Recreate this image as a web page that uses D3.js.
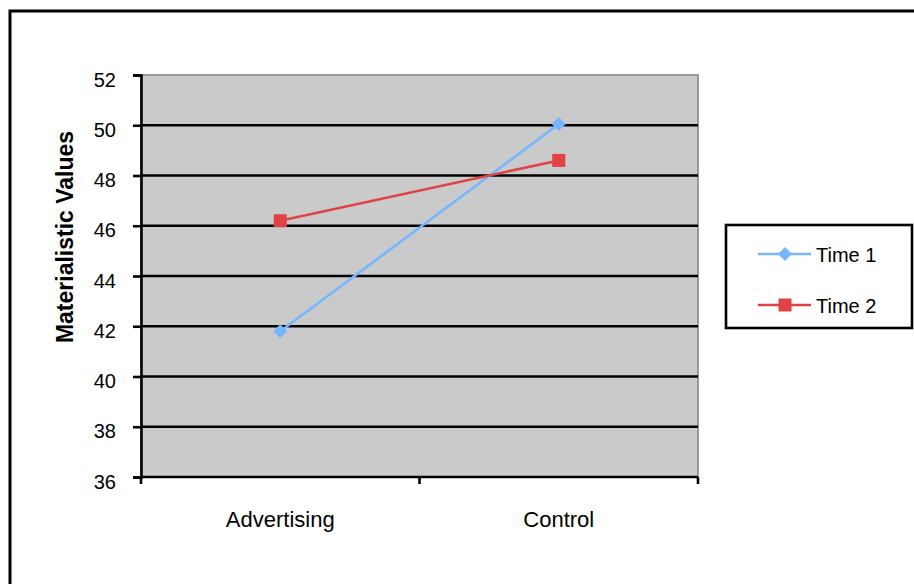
<!DOCTYPE html>
<html>
<head>
<meta charset="utf-8">
<script src="https://cdn.jsdelivr.net/npm/d3@7"></script>
<style>
  html, body { margin: 0; padding: 0; background: #fff; }
  svg { display: block; }
  text { font-family: "Liberation Sans", Arial, sans-serif; }
</style>
</head>
<body>
<svg id="chart" width="914" height="584"></svg>
<script>
// Group means per condition
const categories = ["Advertising", "Control"];
const seriesNames = ["Time 1", "Time 2"];
const time1 = [41.8, 50.05];
const time2 = [46.2, 48.6];
const yTicks = [36, 38, 40, 42, 44, 46, 48, 50, 52];
const yLabel = "Materialistic Values";

const seriesColors = ["#74B7FF", "#E04343"];
const FONT = '"Liberation Sans", Arial, sans-serif';

const svg = d3.select("#chart");

// Outer chart frame
svg.append("rect")
  .attr("x", 10).attr("y", 11)
  .attr("width", 1000).attr("height", 1000)
  .attr("fill", "none").attr("stroke", "#000").attr("stroke-width", 3);

const plot = { left: 141, top: 75, right: 698, bottom: 477 };

const x = d3.scaleBand()
  .domain(categories)
  .range([plot.left, plot.right]);

const y = d3.scaleLinear()
  .domain([36, 52])
  .range([plot.bottom, plot.top]);

// Plot background
svg.append("rect")
  .attr("x", plot.left).attr("y", plot.top)
  .attr("width", plot.right - plot.left).attr("height", plot.bottom - plot.top)
  .attr("fill", "#CACACA")
  .attr("stroke", "#999").attr("stroke-width", 2);

// Horizontal gridlines
svg.append("g")
  .selectAll("line")
  .data(yTicks.filter(t => t > 36 && t < 52))
  .join("line")
  .attr("x1", plot.left).attr("x2", plot.right)
  .attr("y1", d => y(d)).attr("y2", d => y(d))
  .attr("stroke", "#000").attr("stroke-width", 2.6);

// Y axis
const yAxis = svg.append("g")
  .attr("transform", `translate(${plot.left},0)`)
  .call(d3.axisLeft(y).tickValues(yTicks).tickSize(8).tickPadding(17).tickFormat(d3.format("d")));
yAxis.attr("font-size", null).attr("font-family", null);
yAxis.select(".domain").attr("stroke", "#000").attr("stroke-width", 2.6);
yAxis.selectAll(".tick line").attr("stroke", "#000").attr("stroke-width", 2.6);
yAxis.selectAll(".tick text")
  .attr("dy", "0.55em")
  .attr("font-size", 20).attr("fill", "#000")
  .style("font-family", FONT);

// X axis with ticks between categories
const xAxisG = svg.append("g");
xAxisG.append("line")
  .attr("x1", plot.left).attr("x2", plot.right)
  .attr("y1", plot.bottom).attr("y2", plot.bottom)
  .attr("stroke", "#000").attr("stroke-width", 2.6);
const boundaries = categories.map(c => x(c)).concat([x(categories[categories.length - 1]) + x.bandwidth()]);
xAxisG.selectAll("line.tick")
  .data(boundaries)
  .join("line")
  .attr("class", "tick")
  .attr("x1", d => d).attr("x2", d => d)
  .attr("y1", plot.bottom).attr("y2", plot.bottom + 7)
  .attr("stroke", "#000").attr("stroke-width", 2.6);
xAxisG.selectAll("text")
  .data(categories)
  .join("text")
  .attr("x", d => x(d) + x.bandwidth() / 2)
  .attr("y", 527)
  .attr("text-anchor", "middle")
  .attr("font-size", 22)
  .attr("fill", "#000")
  .text(d => d);

// Y axis title
svg.append("text")
  .attr("transform", "translate(73,237) rotate(-90)")
  .attr("text-anchor", "middle")
  .attr("font-size", 23)
  .attr("font-weight", "bold")
  .attr("fill", "#000")
  .text(yLabel);

// Series lines and markers
const seriesData = [time1, time2];
const line = d3.line()
  .x((d, i) => x(categories[i]) + x.bandwidth() / 2)
  .y(d => y(d));

const diamondPath = "M0,-7L7,0L0,7L-7,0Z";
const squarePath = "M-6.5,-6.5H6.5V6.5H-6.5Z";
const markers = [diamondPath, squarePath];

seriesData.forEach((vals, si) => {
  svg.append("path")
    .datum(vals)
    .attr("d", line)
    .attr("fill", "none")
    .attr("stroke", seriesColors[si])
    .attr("stroke-width", 2.6);
  svg.append("g")
    .selectAll("path")
    .data(vals)
    .join("path")
    .attr("transform", (d, i) => `translate(${x(categories[i]) + x.bandwidth() / 2},${y(d)})`)
    .attr("d", markers[si])
    .attr("fill", seriesColors[si]);
});

// Legend
const legend = svg.append("g");
legend.append("rect")
  .attr("x", 726).attr("y", 225)
  .attr("width", 186).attr("height", 103)
  .attr("fill", "#fff").attr("stroke", "#000").attr("stroke-width", 2.6);
seriesNames.forEach((name, i) => {
  const ly = 254 + i * 51;
  legend.append("line")
    .attr("x1", 758).attr("x2", 811)
    .attr("y1", ly).attr("y2", ly)
    .attr("stroke", seriesColors[i]).attr("stroke-width", 2.6);
  legend.append("path")
    .attr("transform", `translate(785,${ly})`)
    .attr("d", markers[i])
    .attr("fill", seriesColors[i]);
  legend.append("text")
    .attr("x", 816).attr("y", ly + 7.5)
    .attr("font-size", 20)
    .attr("fill", "#000")
    .text(name);
});
</script>
</body>
</html>
